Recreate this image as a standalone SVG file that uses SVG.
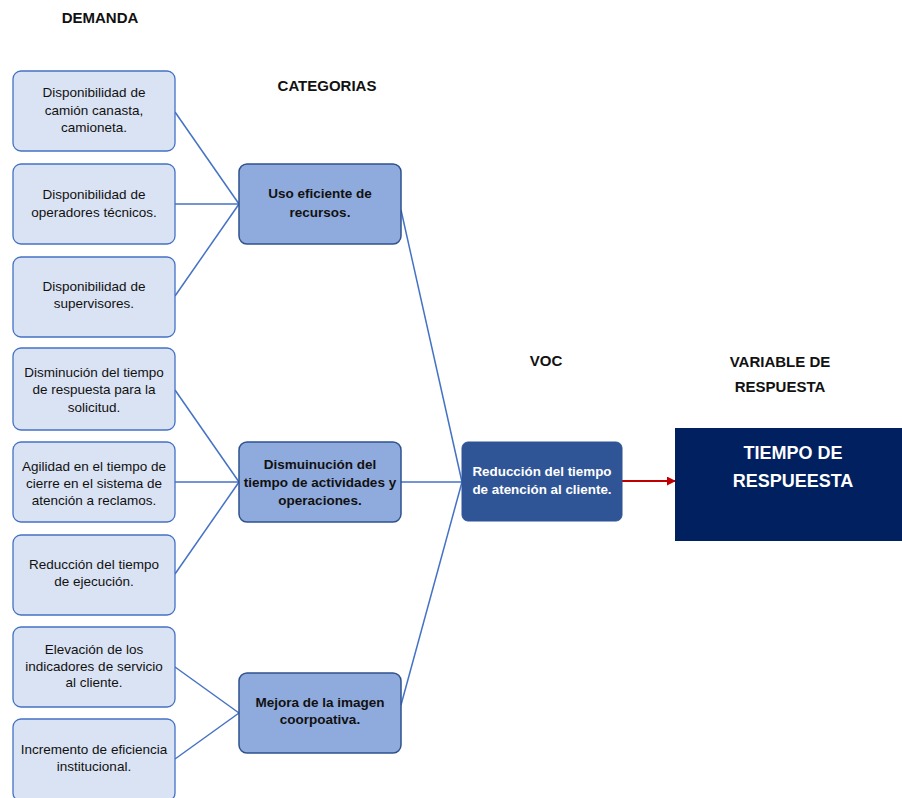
<svg xmlns="http://www.w3.org/2000/svg" width="902" height="798" viewBox="0 0 902 798">
  <style>
    text { font-family: "Liberation Sans", Arial, sans-serif; text-anchor: middle; }
    .hdr { font-size: 15px; font-weight: bold; fill: #111; }
    .dem rect { fill: #DAE3F3; stroke: #4472C4; stroke-width: 1.3; }
    .dem text { font-size: 13.5px; fill: #111; }
    .cat rect { fill: #8FAADC; stroke: #2F528F; stroke-width: 1.5; }
    .cat text { font-size: 13.5px; font-weight: bold; fill: #111; }
    .voc rect { fill: #2F5597; stroke: #2F5597; }
    .voc text { font-size: 13.4px; font-weight: bold; fill: #fff; }
    .out rect { fill: #002060; }
    .out text { font-size: 18px; font-weight: bold; fill: #fff; }
    .conn line { stroke: #4472C4; stroke-width: 1.5; }
  </style>
  <defs>
    <marker id="arrowRed" viewBox="0 0 10 10" refX="9" refY="5" markerWidth="4.5" markerHeight="4.5" orient="auto">
      <path d="M0,0 L10,5 L0,10 Z" fill="#C00000"/>
    </marker>
  </defs>

  <rect width="902" height="798" fill="#fff"/>

  <!-- column headings -->
  <text class="hdr" x="100" y="23">DEMANDA</text>
  <text class="hdr" x="327" y="91">CATEGORIAS</text>
  <text class="hdr" x="546" y="366">VOC</text>
  <text class="hdr" x="780" y="367">VARIABLE DE</text>
  <text class="hdr" x="780" y="392">RESPUESTA</text>

  <!-- connectors -->
  <g id="connectors" class="conn">
    <line x1="175" y1="112" x2="239" y2="204"/>
    <line x1="175" y1="204" x2="239" y2="204"/>
    <line x1="175" y1="296" x2="239" y2="204"/>
    <line x1="175" y1="390" x2="239" y2="482"/>
    <line x1="175" y1="482" x2="239" y2="482"/>
    <line x1="175" y1="574" x2="239" y2="482"/>
    <line x1="175" y1="667" x2="239" y2="713"/>
    <line x1="175" y1="759" x2="239" y2="713"/>
    <line x1="401" y1="210" x2="462" y2="482"/>
    <line x1="401" y1="482" x2="462" y2="482"/>
    <line x1="401" y1="705" x2="462" y2="482"/>
    <line x1="622" y1="481" x2="675" y2="481" style="stroke:#C00000;stroke-width:2" marker-end="url(#arrowRed)"/>
  </g>

  <!-- demand items -->
  <g id="d1" class="dem">
    <rect x="13" y="71" width="162" height="80" rx="8"/>
    <text x="94" y="97">Disponibilidad de</text>
    <text x="94" y="115">camión canasta,</text>
    <text x="94" y="132">camioneta.</text>
  </g>
  <g id="d2" class="dem">
    <rect x="13" y="164" width="162" height="80" rx="8"/>
    <text x="94" y="199">Disponibilidad de</text>
    <text x="94" y="217">operadores técnicos.</text>
  </g>
  <g id="d3" class="dem">
    <rect x="13" y="257" width="162" height="80" rx="8"/>
    <text x="94" y="291">Disponibilidad de</text>
    <text x="94" y="308">supervisores.</text>
  </g>
  <g id="d4" class="dem">
    <rect x="13" y="348" width="162" height="82" rx="8"/>
    <text x="94" y="377">Disminución del tiempo</text>
    <text x="94" y="394">de respuesta para la</text>
    <text x="94" y="412">solicitud.</text>
  </g>
  <g id="d5" class="dem">
    <rect x="13" y="442" width="162" height="80" rx="8"/>
    <text x="94" y="471">Agilidad en el tiempo de</text>
    <text x="94" y="488">cierre en el sistema de</text>
    <text x="94" y="505">atención a reclamos.</text>
  </g>
  <g id="d6" class="dem">
    <rect x="13" y="535" width="162" height="80" rx="8"/>
    <text x="94" y="569">Reducción del tiempo</text>
    <text x="94" y="586">de ejecución.</text>
  </g>
  <g id="d7" class="dem">
    <rect x="13" y="627" width="162" height="80" rx="8"/>
    <text x="94" y="654">Elevación de los</text>
    <text x="94" y="671">indicadores de servicio</text>
    <text x="94" y="687">al cliente.</text>
  </g>
  <g id="d8" class="dem">
    <rect x="13" y="719" width="162" height="82" rx="8"/>
    <text x="94" y="754">Incremento de eficiencia</text>
    <text x="94" y="771">institucional.</text>
  </g>

  <!-- categories -->
  <g id="c1" class="cat">
    <rect x="239" y="164" width="162" height="80" rx="8"/>
    <text x="320" y="198">Uso eficiente de</text>
    <text x="320" y="217">recursos.</text>
  </g>
  <g id="c2" class="cat">
    <rect x="239" y="442" width="162" height="80" rx="8"/>
    <text x="320" y="469">Dismuinución del</text>
    <text x="320" y="487">tiempo de actividades y</text>
    <text x="320" y="505">operaciones.</text>
  </g>
  <g id="c3" class="cat">
    <rect x="239" y="673" width="162" height="80" rx="8"/>
    <text x="320" y="707">Mejora de la imagen</text>
    <text x="320" y="724">coorpoativa.</text>
  </g>

  <!-- voice of customer -->
  <g id="voc" class="voc">
    <rect x="462" y="442" width="160" height="79" rx="6"/>
    <text x="542" y="476">Reducción del tiempo</text>
    <text x="542" y="494">de atención al cliente.</text>
  </g>

  <!-- response variable -->
  <g id="respuesta" class="out">
    <rect x="675" y="428" width="227" height="113"/>
    <text x="793" y="459">TIEMPO DE</text>
    <text x="793" y="487">RESPUEESTA</text>
  </g>
</svg>
